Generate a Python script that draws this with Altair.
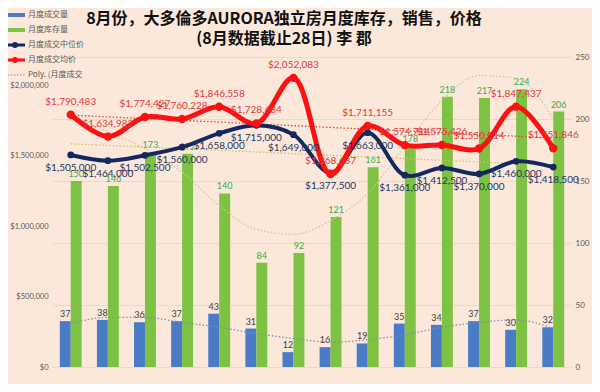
import altair as alt
import pandas as pd

months = ["Jul '24", "Aug '24", "Sep '24", "Oct '24", "Nov '24", "Dec '24", "Jan '25",
          "Feb '25", "Mar '25", "Apr '25", "May '25", "Jun '25", "Jul '25", "Aug '25"]
sales = [37, 38, 36, 37, 43, 31, 12, 16, 19, 35, 34, 37, 30, 32]
inventory = [150, 146, 173, 172, 140, 84, 92, 121, 161, 178, 218, 217, 224, 206]
median_price = [1505000, 1464000, 1502500, 1560000, 1658000, 1715000, 1649000,
                1377500, 1663000, 1361000, 1412500, 1370000, 1460000, 1418500]
average_price = [1790483, 1634982, 1774427, 1760228, 1846558, 1728684, 2052083,
                 1368687, 1711155, 1574714, 1575426, 1550514, 1847437, 1551846]
# trendlines
sales_trend = [35, 40, 40, 36, 32, 27, 23, 20, 22, 26, 32, 36, 38, 31]
inventory_trend = [203, 190, 176, 157, 130, 111, 107, 118, 140, 178, 215, 235, 233, 200]
median_trend = [1584000, 1572000, 1561000, 1549000, 1537000, 1526000, 1514000,
                1502000, 1490000, 1479000, 1467000, 1455000, 1444000, 1432000]
average_trend = [1788000, 1775000, 1763000, 1750000, 1738000, 1725000, 1713000,
                 1700000, 1688000, 1675000, 1663000, 1650000, 1638000, 1625000]

title_lines = ["8月份，大多倫多AURORA独立房月度库存，销售，价格", "(8月数据截止28日) 李 郡"]
legend_names = ["月度成交量", "月度库存量", "月度成交中位价", "月度成交均价", "Poly. (月度成交"]
bar_series = ["成交量", "库存量"]

BG = "#FBE8DB"
BLUE = "#4A7BC6"
GREEN = "#7DC243"
NAVY = "#14285E"
RED = "#FF1010"

df = pd.DataFrame({
    "month": months, "sales": sales, "inventory": inventory,
    "median": median_price, "average": average_price,
    "sales_trend": sales_trend, "inventory_trend": inventory_trend,
    "median_trend": median_trend, "average_trend": average_trend,
})
bars_df = pd.DataFrame({
    "month": months * 2,
    "series": [bar_series[0]] * len(months) + [bar_series[1]] * len(months),
    "value": sales + inventory,
})

xscale = alt.Scale(domain=months, paddingInner=0.41, paddingOuter=0.21)
X = alt.X("month:N", sort=months, scale=xscale,
          axis=alt.Axis(title=None, labelAngle=0, ticks=False, domainColor="#D9D9D9",
                        labelColor="#404040", labelFontSize=10, labelFont="Lato",
                        labelPadding=7))
X_noaxis = alt.X("month:N", sort=months, scale=xscale, axis=None)
XOFF = alt.XOffset("series:N", sort=bar_series,
                   scale=alt.Scale(domain=bar_series, paddingInner=0, paddingOuter=0))

rscale = alt.Scale(domain=[0, 250], nice=False, zero=True)
lscale = alt.Scale(domain=[0, 2200000], nice=False, zero=True)

bars = alt.Chart(bars_df).mark_bar().encode(
    x=X,
    xOffset=XOFF,
    y=alt.Y("value:Q", scale=rscale,
            axis=alt.Axis(orient="right", values=[0, 50, 100, 150, 200, 250], title=None,
                          grid=True, gridColor="#EBD8CB", ticks=False, domain=False,
                          labelFontSize=8, labelColor="#595959", labelFont="Lato",
                          labelPadding=3)),
    color=alt.Color("series:N", scale=alt.Scale(domain=bar_series, range=[BLUE, GREEN]),
                    legend=None),
)

def bar_label(series_name, color):
    return alt.Chart(bars_df).transform_filter(
        alt.datum.series == series_name
    ).mark_text(dy=-7, fontSize=9, font="Lato", color=color).encode(
        x=X_noaxis, xOffset=XOFF,
        y=alt.Y("value:Q", scale=rscale, axis=None),
        text=alt.Text("value:Q"),
    )

lbl_sales = bar_label(bar_series[0], "#404040")
lbl_inv = bar_label(bar_series[1], "#3DAA48")

def trend(field, scale, color):
    return alt.Chart(df).mark_line(interpolate="monotone", strokeDash=[1.5, 2],
                                   strokeWidth=1.3, color=color).encode(
        x=X_noaxis, y=alt.Y(f"{field}:Q", scale=scale, axis=None))

t_sales = trend("sales_trend", rscale, "#7F91AD")
t_inv = trend("inventory_trend", rscale, "#D2C691")
t_med = trend("median_trend", lscale, "#C9C657")
t_avg = trend("average_trend", lscale, "#E0453A")

med_line = alt.Chart(df).mark_line(interpolate="catmull-rom", strokeWidth=4, color=NAVY).encode(
    x=X_noaxis,
    y=alt.Y("median:Q", scale=lscale,
            axis=alt.Axis(orient="left", values=[0, 500000, 1000000, 1500000, 2000000],
                          format="$,.0f", title=None, grid=False, ticks=False, domain=False,
                          labelFontSize=7.5, labelColor="#595959", labelFont="Lato",
                          labelPadding=4)))
med_pts = alt.Chart(df).mark_point(filled=True, size=45, color=NAVY, opacity=1).encode(
    x=X_noaxis, y=alt.Y("median:Q", scale=lscale, axis=None))
med_lbl = alt.Chart(df).mark_text(dy=13, fontSize=10, font="Lato", color="#253560").encode(
    x=X_noaxis, y=alt.Y("median:Q", scale=lscale, axis=None),
    text=alt.Text("median:Q", format="$,.0f"))

avg_line = alt.Chart(df).mark_line(interpolate="catmull-rom", strokeWidth=5, color=RED).encode(
    x=X_noaxis, y=alt.Y("average:Q", scale=lscale, axis=None))
avg_pts = alt.Chart(df).mark_point(filled=True, size=70, color=RED, opacity=1).encode(
    x=X_noaxis, y=alt.Y("average:Q", scale=lscale, axis=None))
avg_lbl = alt.Chart(df).mark_text(dy=-13, fontSize=10, font="Lato", color="#E23A3A").encode(
    x=X_noaxis, y=alt.Y("average:Q", scale=lscale, axis=None),
    text=alt.Text("average:Q", format="$,.0f"))

# title as text marks (plot origin is at page x=52, y=57)
title_layers = []
for i, line in enumerate(title_lines):
    td = pd.DataFrame({"t": [line]})
    title_layers.append(alt.Chart(td).mark_text(
        fontSize=16, fontWeight="bold", font="Noto Sans CJK SC", color="#111111",
        align="center", baseline="middle").encode(
        x=alt.value(232), y=alt.value(-38 + 20 * i), text="t:N"))

# legend (top-left, overlapping the plot as in the reference)
leg_y = [-42, -27, -12, 3, 18]
lx0, lx1, ltx = -47, -27, -24
legend_layers = []
for i, name in enumerate(legend_names):
    ld = pd.DataFrame({"name": [name]})
    if i == 0:
        legend_layers.append(alt.Chart(ld).mark_rule(color=BLUE, strokeWidth=4).encode(
            x=alt.value(lx0), x2=alt.value(lx1), y=alt.value(leg_y[i])))
    elif i == 1:
        legend_layers.append(alt.Chart(ld).mark_rule(color=GREEN, strokeWidth=4).encode(
            x=alt.value(lx0), x2=alt.value(lx1), y=alt.value(leg_y[i])))
    elif i in (2, 3):
        c = NAVY if i == 2 else RED
        legend_layers.append(alt.Chart(ld).mark_rule(color=c, strokeWidth=3).encode(
            x=alt.value(lx0), x2=alt.value(lx1), y=alt.value(leg_y[i])))
        legend_layers.append(alt.Chart(ld).mark_point(filled=True, size=35, color=c, opacity=1).encode(
            x=alt.value((lx0 + lx1) / 2), y=alt.value(leg_y[i])))
    else:
        legend_layers.append(alt.Chart(ld).mark_rule(color="#7F91AD", strokeWidth=1,
                                                     strokeDash=[1.5, 1.5]).encode(
            x=alt.value(lx0), x2=alt.value(lx1), y=alt.value(leg_y[i])))
    legend_layers.append(alt.Chart(ld).mark_text(align="left", baseline="middle", fontSize=8,
                                                 font="Noto Sans CJK SC", color="#595959").encode(
        x=alt.value(ltx), y=alt.value(leg_y[i]), text="name:N"))

chart = alt.layer(
    bars, lbl_sales, lbl_inv, t_sales, t_inv, t_med, t_avg,
    med_line, med_pts, avg_line, avg_pts, med_lbl, avg_lbl,
    *title_layers, *legend_layers,
).resolve_scale(y="independent").properties(
    width=520, height=310,
    autosize=alt.AutoSizeParams(type="none"),
    padding={"left": 44, "top": 49, "right": 20, "bottom": 17},
    background=BG,
).configure_view(stroke=None)

chart.save("out.html", embed_options={"renderer": "svg", "actions": False})
